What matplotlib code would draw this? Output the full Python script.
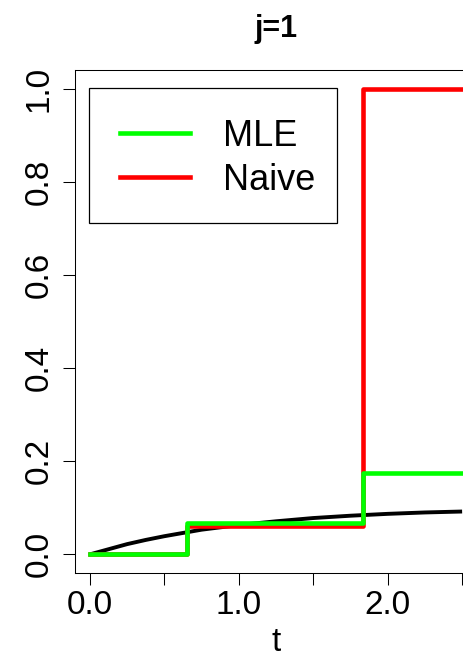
import matplotlib
matplotlib.use('Agg')

import matplotlib.pyplot as plt
from matplotlib.patches import Rectangle

plt.rcParams['font.family'] = ['Liberation Sans', 'DejaVu Sans']

# true curve (black)
t_true = [0.0, 0.125, 0.25, 0.375, 0.5, 0.75, 1.0, 1.25, 1.5, 1.75, 2.0, 2.25, 2.5]
f_true = [0.0, 0.011, 0.022, 0.031, 0.039, 0.053, 0.063, 0.071, 0.078, 0.083, 0.087, 0.090, 0.092]

# step estimates
t_jump = [0.0, 0.655, 1.835, 2.5]
mle = [0.0, 0.068, 0.175, 0.175]
naive = [0.0, 0.060, 1.0, 1.0]

x_ticks = [0.0, 0.5, 1.0, 1.5, 2.0, 2.5]
x_labels = ['0.0', '', '1.0', '', '2.0', '']
y_ticks = [0.0, 0.2, 0.4, 0.6, 0.8, 1.0]
y_labels = ['0.0', '0.2', '0.4', '0.6', '0.8', '1.0']

W, H = 463, 664
fig = plt.figure(figsize=(W / 100, H / 100), dpi=100)
# plot region runs past the right edge, as in the cropped original
ax = fig.add_axes([75 / W, (H - 573) / H, (477 - 75) / W, (573 - 70) / H])

ax.plot(t_true, f_true, color='black', lw=2.8, solid_capstyle='butt')
ax.step(t_jump, naive, where='post', color='#ff0000', lw=3.3, label='Naive')
ax.step(t_jump, mle, where='post', color='#00ff00', lw=3.3, label='MLE')

ax.set_xlim(-0.1, 2.6)
ax.set_ylim(-0.04, 1.04)

ax.set_xticks(x_ticks)
ax.set_xticklabels(x_labels)
ax.set_yticks(y_ticks)
ax.set_yticklabels(y_labels, rotation=90, va='center')
ax.tick_params(axis='both', direction='out', length=8.5, width=0.75,
               labelsize=24, color='black')
ax.tick_params(axis='x', pad=4)
ax.tick_params(axis='y', pad=6)
for sp in ax.spines.values():
    sp.set_linewidth(0.75)

ax.set_xlabel('t', fontsize=24, labelpad=4)
ax.set_title('j=1', fontsize=22, fontweight='bold', pad=24)

h, l = ax.get_legend_handles_labels()
leg = ax.legend(h[::-1], l[::-1], loc='upper left',
                bbox_to_anchor=(89.3 / W, 1 - 88.3 / H), bbox_transform=fig.transFigure,
                fontsize=26, frameon=False, borderpad=0.85, handlelength=1.93,
                handletextpad=0.93, labelspacing=0.25, borderaxespad=0)

# R-style legend box, wider pad on the left than on the right
fig.patches.append(Rectangle((89.3 / W, 1 - 222.7 / H), (336.7 - 89.3) / W, (222.7 - 88.3) / H,
                             transform=fig.transFigure, fill=False, edgecolor='black',
                             lw=0.9, zorder=5))

fig.savefig('out.png', dpi=100)
